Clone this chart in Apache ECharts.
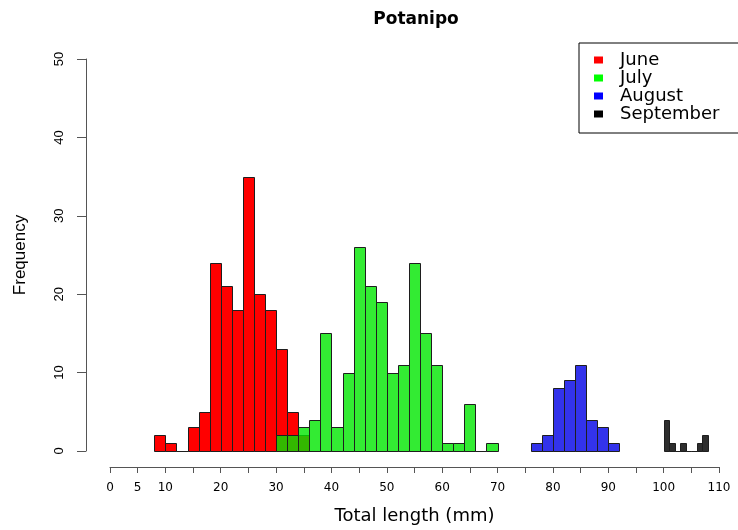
<!DOCTYPE html>
<html><head><meta charset="utf-8">
<script src="https://cdn.jsdelivr.net/npm/echarts@6/dist/echarts.min.js"></script>
<style>html,body{margin:0;padding:0;background:#fff}#c{width:738px;height:530px}</style>
</head><body><div id="c"></div>
<script>
// ---- data ----
const months = ['June', 'July', 'August', 'September'];
const juneBinStarts = [8, 10, 12, 14, 16, 18, 20, 22, 24, 26, 28, 30, 32, 34];
const juneCounts    = [2, 1, 0, 3, 5, 24, 21, 18, 35, 20, 18, 13, 5, 2];
const julyBinStarts = [30, 32, 34, 36, 38, 40, 42, 44, 46, 48, 50, 52, 54, 56, 58, 60, 62, 64, 66, 68];
const julyCounts    = [2, 2, 3, 4, 15, 3, 10, 26, 21, 19, 10, 11, 24, 15, 11, 1, 1, 6, 0, 1];
const augustBinStarts = [76, 78, 80, 82, 84, 86, 88, 90];
const augustCounts    = [1, 2, 8, 9, 11, 4, 3, 1];
const septemberBinStarts = [100, 101, 102, 103, 104, 105, 106, 107];
const septemberCounts    = [4, 1, 0, 1, 0, 0, 1, 2];
const binWidths = [2, 2, 2, 1];
const xLabelledTicks = [0, 5, 10, 20, 30, 40, 50, 60, 70, 80, 90, 100, 110];
const yTicks = [0, 10, 20, 30, 40, 50];

// ---- styling ----
const legendColors = ['#ff0000', '#00ff00', '#0000ff', '#000000'];
const barFills = ['#ff0000', 'rgba(0,230,0,0.8)', 'rgba(0,0,230,0.8)', 'rgba(0,0,0,0.82)'];
const edge = '#1e1e1e';
const axisCol = '#555';

const starts = [juneBinStarts, julyBinStarts, augustBinStarts, septemberBinStarts];
const counts = [juneCounts, julyCounts, augustCounts, septemberCounts];

function binData(i) {
  return starts[i].map((s, k) => [s, s + binWidths[i], counts[i][k]]);
}
function renderBin(fill) {
  return function (params, api) {
    const a = api.coord([api.value(0), api.value(2)]);
    const b = api.coord([api.value(1), 0]);
    const x0 = Math.round(a[0]) + 0.5, x1 = Math.round(b[0]) + 0.5;
    const y0 = Math.round(a[1]) + 0.5, y1 = Math.round(b[1]) + 0.5;
    return {
      type: 'rect',
      shape: { x: x0, y: y0, width: x1 - x0, height: y1 - y0 },
      style: { fill: fill, stroke: edge, lineWidth: 1 }
    };
  };
}

const chart = echarts.init(document.getElementById('c'), null, { renderer: 'canvas' });
chart.setOption({
  backgroundColor: '#ffffff',
  animation: false,
  title: {
    text: 'Potanipo', left: 411, top: 6, textAlign: 'center',
    textStyle: { fontFamily: 'DejaVu Sans', fontWeight: 'bold', fontSize: 17, color: '#000' }
  },
  legend: {
    orient: 'vertical', left: 579, top: 43,
    padding: [8, 40, 10, 15], itemGap: 0,
    borderColor: '#000', borderWidth: 1,
    icon: 'rect', itemWidth: 9, itemHeight: 7,
    itemStyle: { borderWidth: 0 },
    textStyle: { fontFamily: 'DejaVu Sans', fontSize: 18, lineHeight: 18, color: '#000', padding: [0, 0, 0, 12] },
    data: months.map((m, i) => ({ name: m, itemStyle: { color: legendColors[i] } }))
  },
  grid: { left: 110, right: 19, top: 59, bottom: 78, containLabel: false },
  xAxis: {
    type: 'value', min: 0, max: 110, interval: 5, offset: 16,
    name: 'Total length (mm)', nameLocation: 'middle', nameGap: 40,
    nameTextStyle: { fontFamily: 'DejaVu Sans', fontSize: 18, color: '#000' },
    axisLine: { show: true, onZero: false, lineStyle: { color: axisCol, width: 1 } },
    axisTick: { show: true, length: 6, lineStyle: { color: axisCol } },
    axisLabel: {
      margin: 15, fontFamily: 'DejaVu Sans', fontSize: 12, color: '#000',
      showMinLabel: true, showMaxLabel: true,
      formatter: v => (xLabelledTicks.indexOf(v) >= 0 ? String(v) : '')
    },
    splitLine: { show: false }
  },
  yAxis: {
    type: 'value', min: yTicks[0], max: yTicks[yTicks.length - 1], interval: 10, offset: 24,
    name: 'Frequency', nameLocation: 'middle', nameGap: 57, nameRotate: 90,
    nameTextStyle: { fontFamily: 'Liberation Sans', fontSize: 17, color: '#000' },
    axisLine: { show: true, onZero: false, lineStyle: { color: axisCol, width: 1 } },
    axisTick: { show: true, length: 9, lineStyle: { color: axisCol } },
    axisLabel: { rotate: 90, margin: 20, fontFamily: 'Liberation Sans', fontSize: 13, color: '#000' },
    splitLine: { show: false }
  },
  series: months.map((m, i) => ({
    name: m, type: 'custom', clip: false,
    itemStyle: { color: legendColors[i] },
    encode: { x: [0, 1], y: 2 },
    data: binData(i),
    renderItem: renderBin(barFills[i])
  }))
});
</script></body></html>
